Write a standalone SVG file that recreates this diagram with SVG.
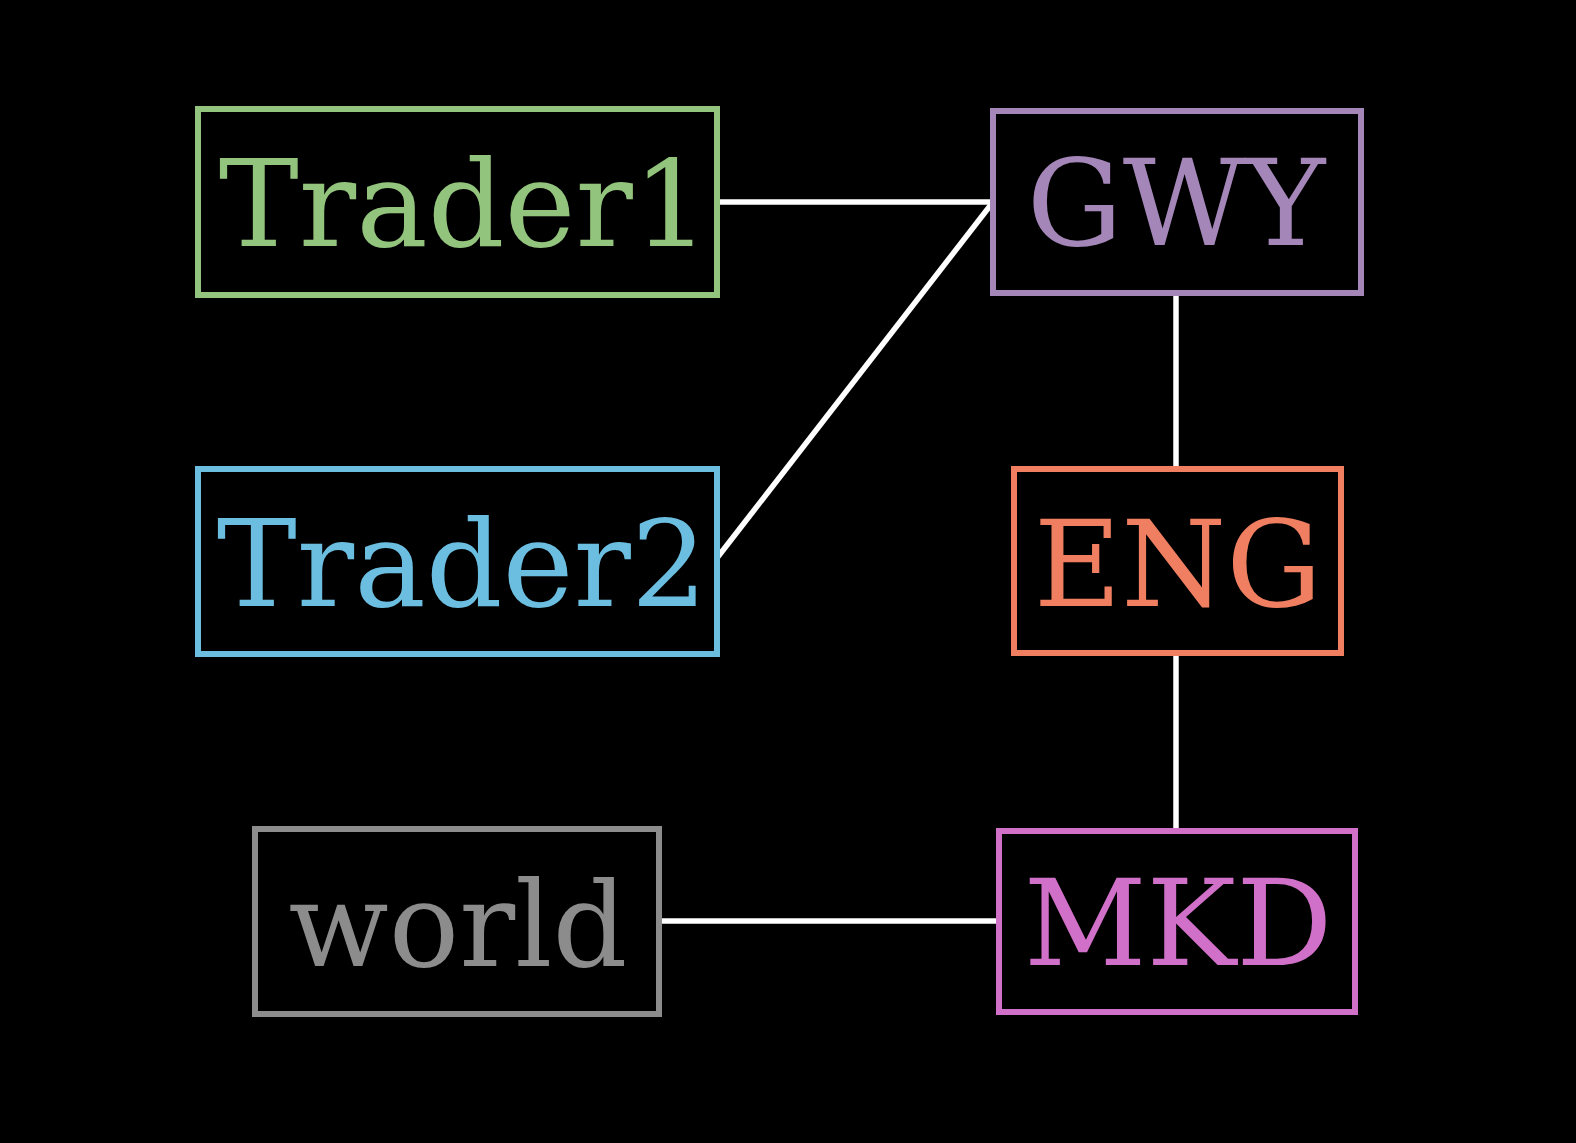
<svg xmlns="http://www.w3.org/2000/svg" width="1576" height="1143" viewBox="0 0 1576 1143">
<style>
.box{fill:#000;stroke-width:6}
.lbl{font-family:"DejaVu Serif","Liberation Serif",serif;font-size:120px;text-anchor:middle}
.conn line{stroke:#fff;stroke-width:5.5}
</style>
<rect x="0" y="0" width="1576" height="1143" fill="#000"/>
<g id="connectors" class="conn">
<line x1="717" y1="202" x2="993" y2="202"/>
<line x1="717" y1="558" x2="993" y2="202"/>
<line x1="1176" y1="293" x2="1176" y2="469"/>
<line x1="1176" y1="653" x2="1176" y2="831"/>
<line x1="659" y1="921" x2="999" y2="921"/>
</g>
<g id="Trader1">
<rect class="box" x="198" y="109" width="519" height="186" stroke="#93C47D"/>
<text class="lbl" x="464" y="246" fill="#93C47D">Trader1</text>
</g>
<g id="GWY">
<rect class="box" x="993" y="111" width="368" height="182" stroke="#A486B8"/>
<text class="lbl" x="1176" y="245" fill="#A486B8">GWY</text>
</g>
<g id="Trader2">
<rect class="box" x="198" y="469" width="519" height="185" stroke="#6CBEE0"/>
<text class="lbl" x="462" y="606" fill="#6CBEE0">Trader2</text>
</g>
<g id="ENG">
<rect class="box" x="1014" y="469" width="327" height="184" stroke="#EF7F60"/>
<text class="lbl" x="1178" y="606" fill="#EF7F60">ENG</text>
</g>
<g id="world">
<rect class="box" x="255" y="829" width="404" height="185" stroke="#8C8C8C"/>
<text class="lbl" x="458" y="966" fill="#8C8C8C" style="font-size:117px">world</text>
</g>
<g id="MKD">
<rect class="box" x="999" y="831" width="356" height="181" stroke="#D070C8"/>
<text class="lbl" x="1178" y="965" fill="#D070C8">MKD</text>
</g>
</svg>
